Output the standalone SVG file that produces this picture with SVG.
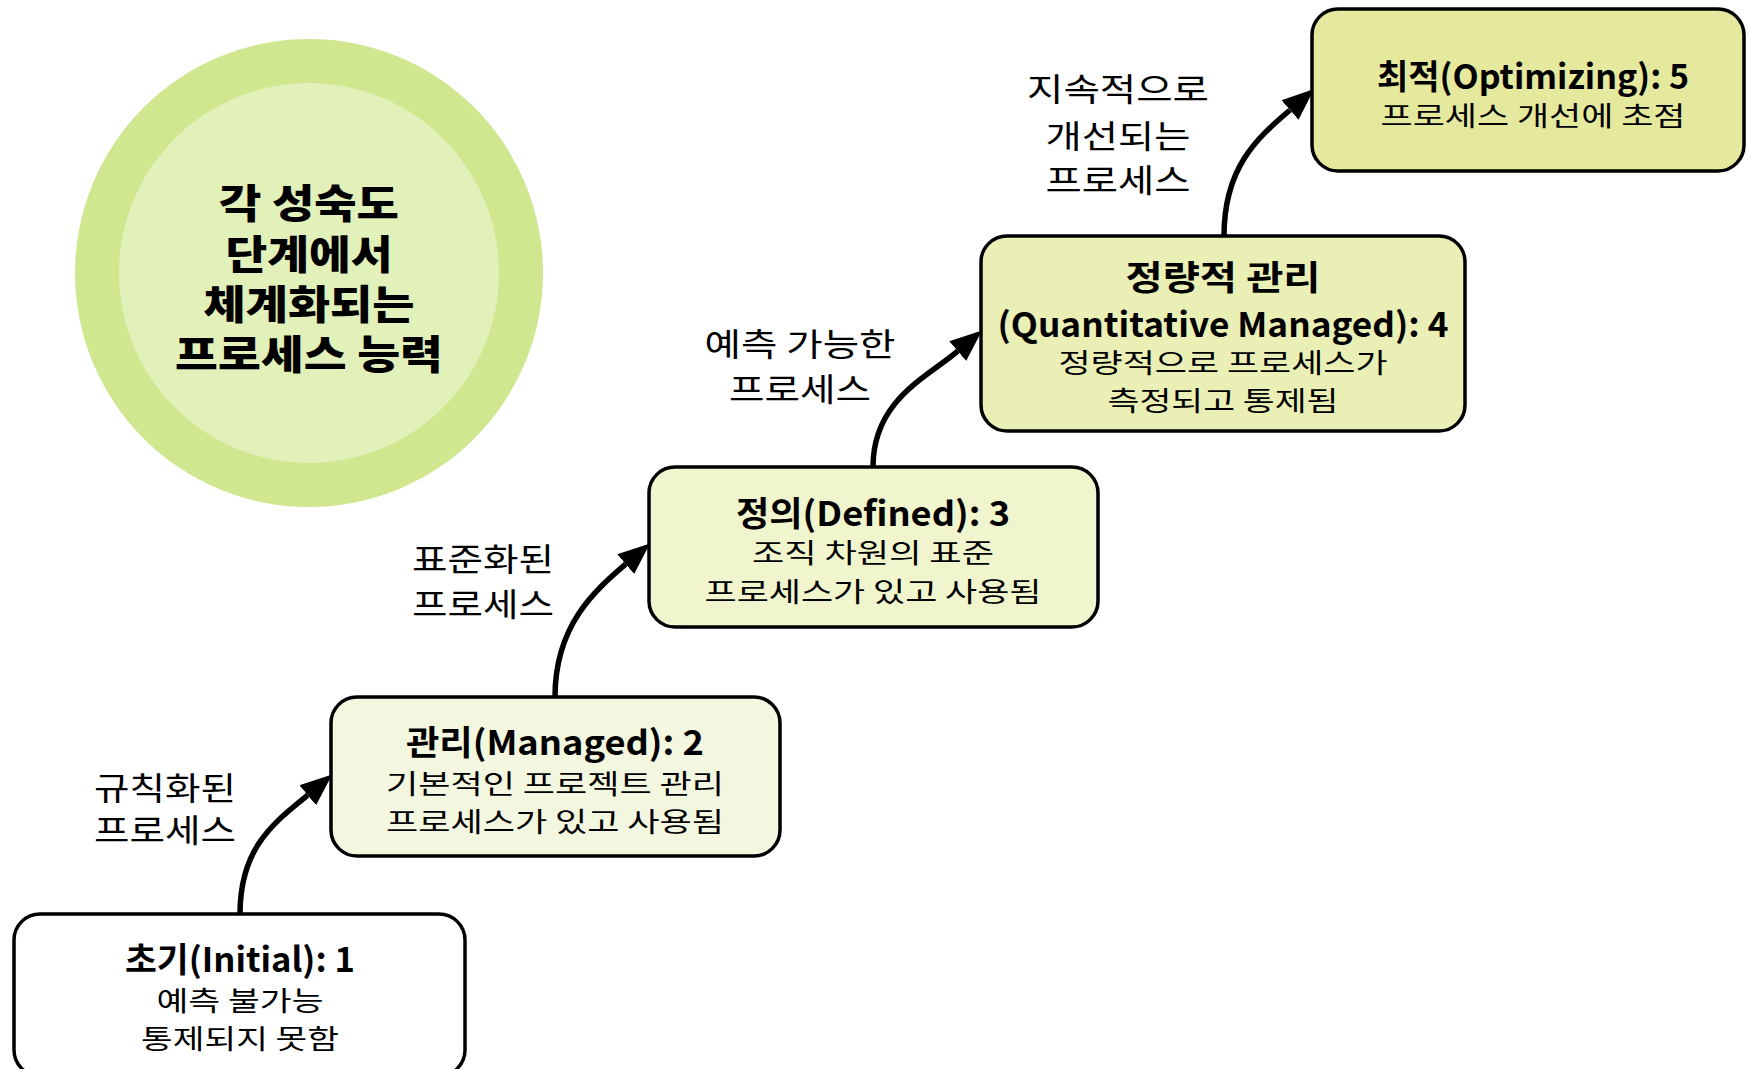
<svg xmlns="http://www.w3.org/2000/svg" width="1748" height="1069" viewBox="0 0 1748 1069">
<defs>
<style>
text{font-family:"Noto Sans CJK KR","Noto Sans",sans-serif;fill:#000;text-anchor:middle;dominant-baseline:central;}
.t{font-size:34px;font-weight:700;}
.b{font-size:27px;font-weight:400;}
.l{font-size:32px;font-weight:400;}
.c{font-size:40px;font-weight:900;}
.box{stroke:#000;stroke-width:3.5;}
.conn{fill:none;stroke:#000;stroke-width:5.5;}
</style>
<marker id="ah" markerUnits="userSpaceOnUse" markerWidth="34" markerHeight="30" refX="0" refY="13" orient="auto" viewBox="0 0 34 26">
<path d="M0,0 L32,13 L0,26 z" fill="#000"/>
</marker>
</defs>
<rect width="1748" height="1069" fill="#fff"/>

<g id="circle">
<circle cx="309" cy="273" r="234" fill="#d0e68f"/>
<circle cx="309" cy="273" r="190" fill="#e2f0ba"/>
<text class="c" x="309" y="201" textLength="180" lengthAdjust="spacingAndGlyphs">각 성숙도</text>
<text class="c" x="309" y="252" textLength="167" lengthAdjust="spacingAndGlyphs">단계에서</text>
<text class="c" x="309" y="302" textLength="211" lengthAdjust="spacingAndGlyphs">체계화되는</text>
<text class="c" x="309" y="352" textLength="268" lengthAdjust="spacingAndGlyphs">프로세스 능력</text>
</g>

<g id="connectors">
<path class="conn" d="M240,914 C240,845 277,821 307.7,795.2" marker-end="url(#ah)"/>
<path class="conn" d="M555,697 C555,625 595.3,590.2 625.7,564.2" marker-end="url(#ah)"/>
<path class="conn" d="M873,467 C873,400 927.3,377.2 957.7,351.2" marker-end="url(#ah)"/>
<path class="conn" d="M1224,236 C1224,165 1260,136 1290,110" marker-end="url(#ah)"/>
</g>

<g id="labels">
<text class="l" x="165" y="786" textLength="142" lengthAdjust="spacingAndGlyphs">규칙화된</text>
<text class="l" x="165" y="828" textLength="142" lengthAdjust="spacingAndGlyphs">프로세스</text>
<text class="l" x="483" y="557" textLength="142" lengthAdjust="spacingAndGlyphs">표준화된</text>
<text class="l" x="483" y="602" textLength="142" lengthAdjust="spacingAndGlyphs">프로세스</text>
<text class="l" x="800" y="342" textLength="191" lengthAdjust="spacingAndGlyphs">예측 가능한</text>
<text class="l" x="800" y="387" textLength="142" lengthAdjust="spacingAndGlyphs">프로세스</text>
<text class="l" x="1118" y="87" textLength="182" lengthAdjust="spacingAndGlyphs">지속적으로</text>
<text class="l" x="1118" y="134" textLength="145" lengthAdjust="spacingAndGlyphs">개선되는</text>
<text class="l" x="1118" y="178" textLength="145" lengthAdjust="spacingAndGlyphs">프로세스</text>
</g>

<g id="node1">
<rect class="box" x="14" y="914" width="451" height="162" rx="26" fill="#fff"/>
<text class="t" x="240" y="957" textLength="230" lengthAdjust="spacingAndGlyphs">초기(Initial): 1</text>
<text class="b" x="240" y="999" textLength="167" lengthAdjust="spacingAndGlyphs">예측 불가능</text>
<text class="b" x="240" y="1037" textLength="198" lengthAdjust="spacingAndGlyphs">통제되지 못함</text>
</g>

<g id="node2">
<rect class="box" x="331" y="697" width="449" height="159" rx="26" fill="#f4f7e0"/>
<text class="t" x="555" y="740" textLength="298" lengthAdjust="spacingAndGlyphs">관리(Managed): 2</text>
<text class="b" x="555" y="782" textLength="338" lengthAdjust="spacingAndGlyphs">기본적인 프로젝트 관리</text>
<text class="b" x="555" y="820" textLength="338" lengthAdjust="spacingAndGlyphs">프로세스가 있고 사용됨</text>
</g>

<g id="node3">
<rect class="box" x="649" y="467" width="449" height="160" rx="26" fill="#f1f5cd"/>
<text class="t" x="873" y="511" textLength="274" lengthAdjust="spacingAndGlyphs">정의(Defined): 3</text>
<text class="b" x="873" y="551" textLength="242" lengthAdjust="spacingAndGlyphs">조직 차원의 표준</text>
<text class="b" x="873" y="590" textLength="337" lengthAdjust="spacingAndGlyphs">프로세스가 있고 사용됨</text>
</g>

<g id="node4">
<rect class="box" x="981" y="236" width="484" height="195" rx="26" fill="#e9efb5"/>
<text class="t" x="1223" y="275" textLength="195" lengthAdjust="spacingAndGlyphs">정량적 관리</text>
<text class="t" x="1223" y="322" textLength="451" lengthAdjust="spacingAndGlyphs">(Quantitative Managed): 4</text>
<text class="b" x="1223" y="361" textLength="329" lengthAdjust="spacingAndGlyphs">정량적으로 프로세스가</text>
<text class="b" x="1223" y="399" textLength="231" lengthAdjust="spacingAndGlyphs">측정되고 통제됨</text>
</g>

<g id="node5">
<rect class="box" x="1312" y="9" width="432" height="162" rx="26" fill="#e4e99e"/>
<text class="t" x="1533" y="74" textLength="312" lengthAdjust="spacingAndGlyphs">최적(Optimizing): 5</text>
<text class="b" x="1533" y="114" textLength="305" lengthAdjust="spacingAndGlyphs">프로세스 개선에 초점</text>
</g>
</svg>
